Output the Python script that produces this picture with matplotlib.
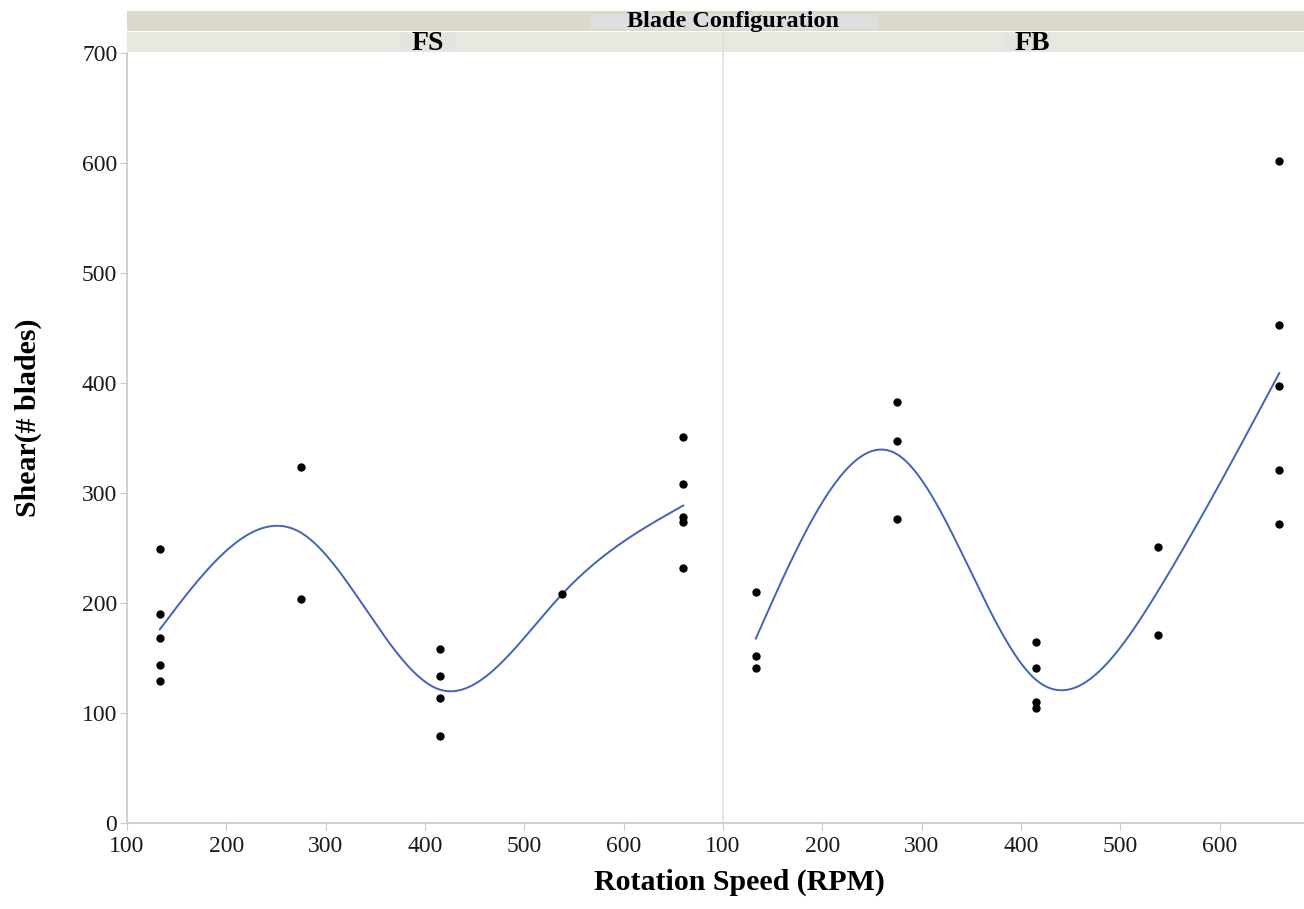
import numpy as np
import matplotlib
matplotlib.use("Agg")
import matplotlib.pyplot as plt
from matplotlib.patches import Rectangle

# ---- data ----
panels = ["FS", "FB"]
fs_rpm = [133, 133, 133, 133, 133, 275, 275, 415, 415, 415, 415, 538, 660, 660, 660, 660, 660]
fs_shear = [249, 190, 168, 144, 129, 324, 204, 158, 134, 114, 79, 208, 351, 308, 278, 274, 232]
fb_rpm = [133, 133, 133, 275, 275, 275, 415, 415, 415, 415, 538, 538, 660, 660, 660, 660, 660]
fb_shear = [210, 152, 141, 383, 347, 276, 165, 141, 110, 105, 251, 171, 602, 453, 397, 321, 272]
x_ticks = [100, 200, 300, 400, 500, 600]
y_ticks = [0, 100, 200, 300, 400, 500, 600, 700]

W, H = 1304, 909
fig = plt.figure(figsize=(W / 100, H / 100), dpi=100)
plt.rcParams['font.family'] = ['Liberation Serif', 'DejaVu Serif']


def natural_spline(x, y, xs):
    x = np.asarray(x, float)
    y = np.asarray(y, float)
    n = len(x)
    h = np.diff(x)
    A = np.zeros((n, n))
    b = np.zeros(n)
    A[0, 0] = 1
    A[-1, -1] = 1
    for i in range(1, n - 1):
        A[i, i - 1] = h[i - 1]
        A[i, i] = 2 * (h[i - 1] + h[i])
        A[i, i + 1] = h[i]
        b[i] = 6 * ((y[i + 1] - y[i]) / h[i] - (y[i] - y[i - 1]) / h[i - 1])
    M = np.linalg.solve(A, b)
    out = np.empty_like(xs)
    for k, t in enumerate(xs):
        i = min(max(np.searchsorted(x, t) - 1, 0), n - 2)
        a = x[i + 1] - t
        c = t - x[i]
        out[k] = (M[i] * a ** 3 + M[i + 1] * c ** 3) / (6 * h[i]) \
            + (y[i] / h[i] - M[i] * h[i] / 6) * a + (y[i + 1] / h[i] - M[i + 1] * h[i] / 6) * c
    return out


def fig_x(px):
    return px / W


def fig_y(py):
    return 1 - py / H


x0, xm, x1 = 127, 723, 1304
ytop, ybot = 53, 823
axes_spec = [
    (fs_rpm, fs_shear, fig_x(x0), fig_x(xm), (100, 700)),
    (fb_rpm, fb_shear, fig_x(xm), fig_x(x1), (100, 100 + (x1 - xm) / ((xm - x0) / 600))),
]

axline = '#c8c8c8'
for idx, (xr, ys, l, r, xl) in enumerate(axes_spec):
    ax = fig.add_axes([l, fig_y(ybot), r - l, fig_y(ytop) - fig_y(ybot)])
    ax.set_xlim(*xl)
    ax.set_ylim(0, 700)
    for s in ['top', 'right']:
        ax.spines[s].set_visible(False)
    ax.spines['bottom'].set_color(axline)
    ax.spines['bottom'].set_linewidth(1.2)
    ax.spines['left'].set_color(axline if idx == 0 else '#e2e2e2')
    ax.spines['left'].set_linewidth(1.2)
    ax.set_xticks(x_ticks)
    ax.set_xticklabels([str(t) for t in x_ticks])
    ax.tick_params(axis='x', length=5, color=axline, labelsize=17, labelcolor='#1a1a1a', pad=4)
    if idx == 0:
        ax.set_yticks(y_ticks)
        ax.set_yticklabels([str(t) for t in y_ticks])
        ax.tick_params(axis='y', length=5, color=axline, labelsize=17, labelcolor='#1a1a1a', pad=2)
    else:
        ax.set_yticks([])
    xr_a = np.asarray(xr, float)
    ys_a = np.asarray(ys, float)
    ux = np.unique(xr_a)
    means = np.array([ys_a[xr_a == u].mean() for u in ux])
    xs = np.linspace(ux[0], ux[-1], 400)
    ax.plot(xs, natural_spline(ux, means, xs), color='#4463b8', lw=1.4, zorder=2)
    ax.scatter(xr_a, ys_a, s=36, color='black', zorder=3, linewidths=0)
    ax.patch.set_alpha(0)

# header strips
def frect(xa, ya, xb, yb, color):
    fig.patches.append(Rectangle((fig_x(xa), fig_y(yb)), fig_x(xb) - fig_x(xa), fig_y(ya) - fig_y(yb),
                                 transform=fig.transFigure, facecolor=color, edgecolor='none', zorder=0))

frect(x0, 11, 1340, 31, '#dcd9ca')
frect(x0, 32, 1340, 52, '#e8e8e0')
frect(590, 14, 878, 29, '#dedede')
frect(399, 33, 457, 51, '#e3e3e0')
frect(1004, 33, 1050, 51, '#e3e3e0')
fig.lines.append(plt.Line2D([fig_x(xm), fig_x(xm)], [fig_y(52), fig_y(31)], transform=fig.transFigure,
                            color='#dcdcd4', lw=1))
fig.text(fig_x(733), fig_y(22), "Blade Configuration", ha='center', va='center',
         fontsize=17.5, fontweight='bold', color='black')
fig.text(fig_x(428), fig_y(44), panels[0], ha='center', va='center',
         fontsize=20, fontweight='bold', color='black')
fig.text(fig_x(1032), fig_y(44), panels[1], ha='center', va='center',
         fontsize=20, fontweight='bold', color='black')

fig.text(fig_x(739), fig_y(882), "Rotation Speed (RPM)", ha='center', va='center',
         fontsize=21.5, fontweight='bold')
fig.text(fig_x(28), fig_y(418), "Shear(# blades)", ha='center', va='center', rotation=90,
         fontsize=21.5, fontweight='bold')

fig.savefig("out.png", dpi=100, facecolor='white')
